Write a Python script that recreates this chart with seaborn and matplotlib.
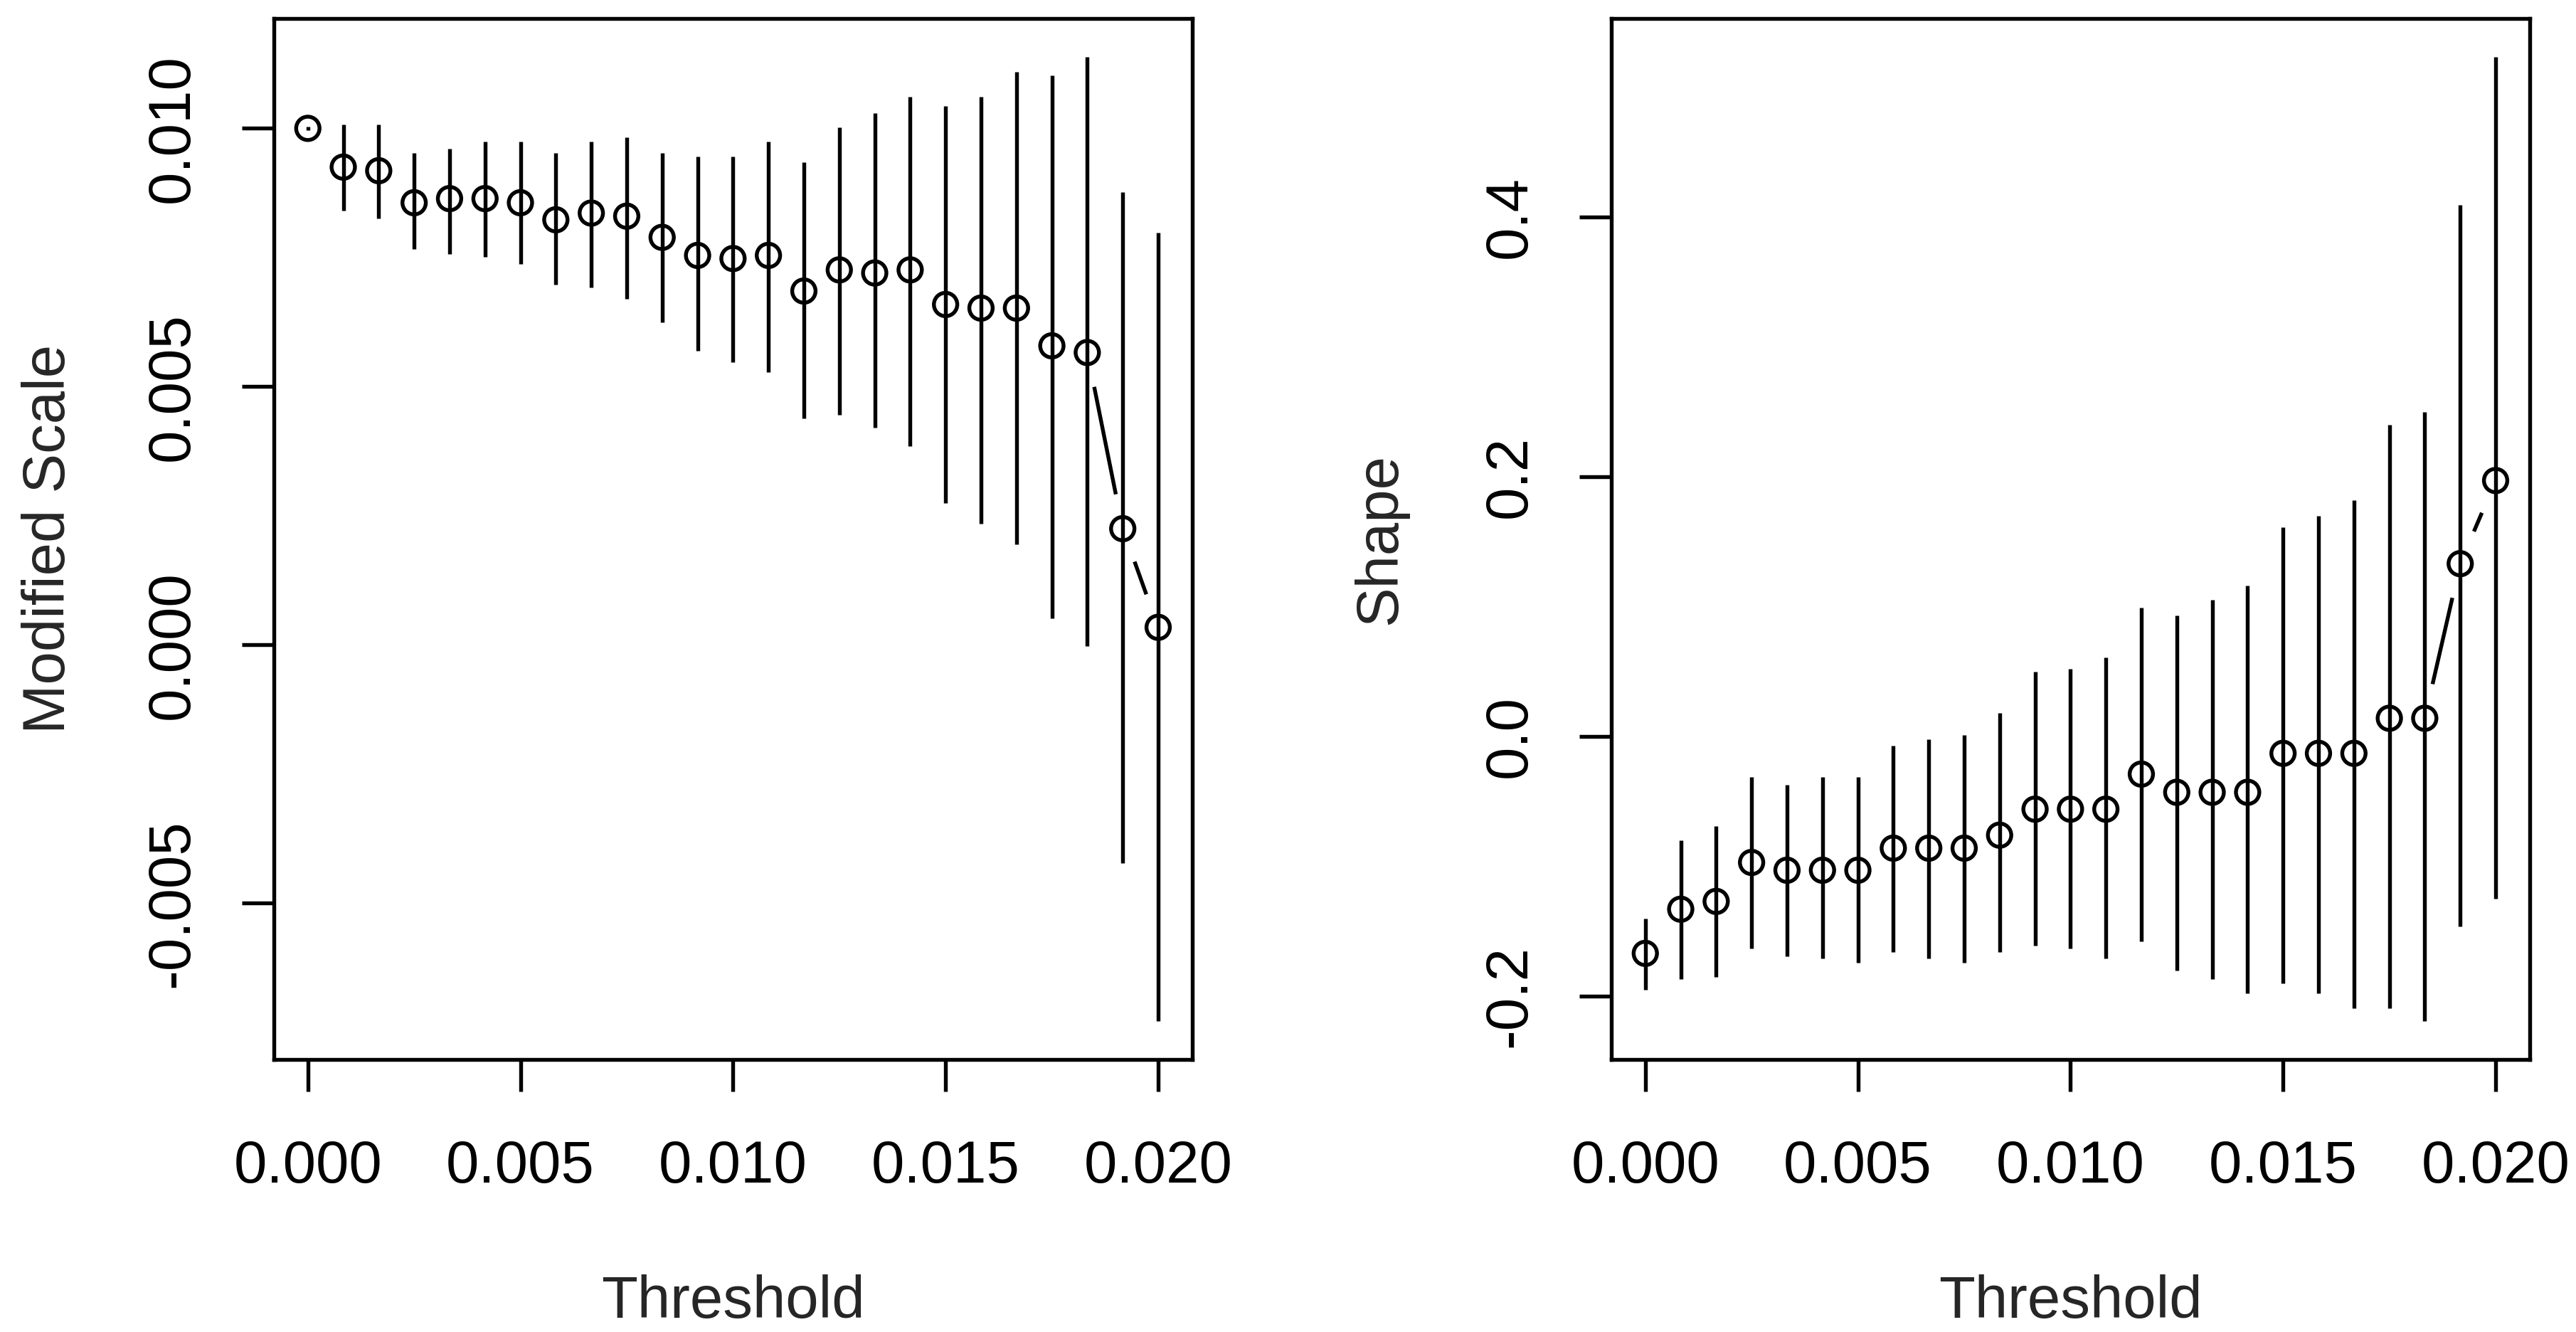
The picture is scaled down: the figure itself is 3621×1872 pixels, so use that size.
import numpy as np
import matplotlib
matplotlib.use("Agg")
import matplotlib.pyplot as plt
from matplotlib.ticker import FixedLocator, FormatStrFormatter
import seaborn as sns

# thresholds (25 of them, 0 to 0.02)
thresholds = [0.0, 0.000833, 0.001667, 0.0025, 0.003333, 0.004167, 0.005,
              0.005833, 0.006667, 0.0075, 0.008333, 0.009167, 0.01, 0.010833,
              0.011667, 0.0125, 0.013333, 0.014167, 0.015, 0.015833, 0.016667,
              0.0175, 0.018333, 0.019167, 0.02]

# modified scale estimates and 95% limits
scale_est = [0.01000, 0.00925, 0.00918, 0.00856, 0.00864, 0.00864, 0.00856,
             0.00823, 0.00836, 0.00830, 0.00789, 0.00754, 0.00748, 0.00754,
             0.00685, 0.00726, 0.00720, 0.00726, 0.00659, 0.00652, 0.00652,
             0.00579, 0.00566, 0.00225, 0.00034]
scale_lo = [0.00997, 0.00841, 0.00826, 0.00766, 0.00757, 0.00751, 0.00738,
            0.00698, 0.00692, 0.00670, 0.00625, 0.00569, 0.00548, 0.00528,
            0.00439, 0.00446, 0.00420, 0.00385, 0.00275, 0.00234, 0.00195,
            0.00052, -0.00002, -0.00423, -0.00728]
scale_hi = [0.01003, 0.01007, 0.01007, 0.00952, 0.00961, 0.00974, 0.00974,
            0.00952, 0.00974, 0.00982, 0.00952, 0.00946, 0.00946, 0.00974,
            0.00934, 0.01002, 0.01030, 0.01061, 0.01043, 0.01061, 0.01110,
            0.01103, 0.01138, 0.00877, 0.00798]

# shape estimates and 95% limits
shape_est = [-0.167, -0.133, -0.127, -0.097, -0.103, -0.103, -0.103,
             -0.086, -0.086, -0.086, -0.076, -0.056, -0.056, -0.056,
             -0.029, -0.043, -0.043, -0.043, -0.013, -0.013, -0.013,
             0.014, 0.014, 0.133, 0.197]
shape_lo = [-0.195, -0.187, -0.185, -0.163, -0.169, -0.171, -0.174,
            -0.166, -0.171, -0.174, -0.166, -0.161, -0.163, -0.171,
            -0.158, -0.180, -0.187, -0.198, -0.190, -0.198, -0.209,
            -0.209, -0.219, -0.146, -0.125]
shape_hi = [-0.140, -0.080, -0.069, -0.031, -0.037, -0.031, -0.031,
            -0.007, -0.002, 0.001, 0.018, 0.050, 0.052, 0.061,
            0.099, 0.093, 0.105, 0.116, 0.161, 0.170, 0.182,
            0.240, 0.250, 0.409, 0.523]

x_ticks = [0.0, 0.005, 0.010, 0.015, 0.020]
scale_ticks = [-0.005, 0.0, 0.005, 0.010]
shape_ticks = [-0.2, 0.0, 0.2, 0.4]

sns.set_style("ticks")
plt.rcParams["font.family"] = ["Liberation Sans", "DejaVu Sans"]
plt.rcParams["font.size"] = 20

fig = plt.figure(figsize=(3621 / 300, 1872 / 300), dpi=300)
ax1 = fig.add_axes([0.1063, 0.2046, 0.3565, 0.7815])
ax2 = fig.add_axes([0.6255, 0.2046, 0.3565, 0.7815])

LW = 1.3


def r_range(vals):
    lo, hi = min(vals), max(vals)
    d = (hi - lo) * 0.04
    return lo - d, hi + d


def panel(ax, est, lo, hi, yticks, yfmt, ylabel, ypad):
    x = np.array(thresholds)
    # connecting line (type = "b": gaps around each point)
    sns.lineplot(x=x, y=est, ax=ax, color="black", linewidth=LW,
                 sort=False, errorbar=None, zorder=1.1)
    ax.scatter(x, est, s=560, color="white", edgecolors="none", zorder=1.2)
    ax.vlines(x, lo, hi, color="black", linewidth=LW, zorder=2)
    ax.scatter(x, est, s=62, facecolors="none", edgecolors="black",
               linewidths=LW, zorder=3)

    ax.set_xlim(*r_range(thresholds))
    ax.set_ylim(*r_range(list(lo) + list(hi)))
    ax.xaxis.set_major_locator(FixedLocator(x_ticks))
    ax.yaxis.set_major_locator(FixedLocator(yticks))
    ax.xaxis.set_major_formatter(FormatStrFormatter("%.3f"))
    ax.yaxis.set_major_formatter(FormatStrFormatter(yfmt))
    ax.tick_params(axis="both", direction="out", length=10.8, width=LW,
                   color="black", labelsize=20, labelcolor="black")
    ax.tick_params(axis="x", pad=16)
    ax.tick_params(axis="y", pad=14)
    for lab in ax.get_yticklabels():
        lab.set_rotation(90)
        lab.set_va("center")
    for sp in ax.spines.values():
        sp.set_visible(True)
        sp.set_linewidth(LW)
        sp.set_color("black")
    ax.set_xlabel("Threshold", fontsize=20, labelpad=27)
    ax.set_ylabel(ylabel, fontsize=20, labelpad=ypad)
    ax.grid(False)


panel(ax1, scale_est, scale_lo, scale_hi, scale_ticks, "%.3f",
      "Modified Scale", 23)
panel(ax2, shape_est, shape_lo, shape_hi, shape_ticks, "%.1f",
      "Shape", 25)

fig.savefig("out.png", dpi=300, facecolor="white")
